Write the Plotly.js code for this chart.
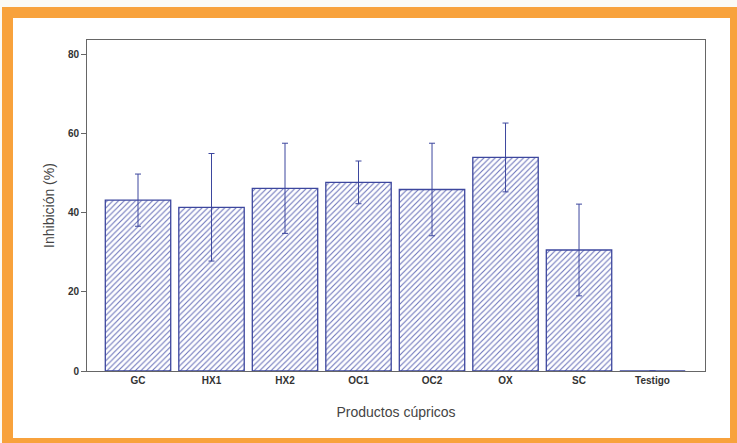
<!DOCTYPE html>
<html>
<head>
<meta charset="utf-8">
<script src="https://cdn.plot.ly/plotly-3.0.1.min.js"></script>
<style>
  html, body { margin: 0; padding: 0; background: #fbfaf6; }
  #wrap { position: relative; width: 737px; height: 443px; overflow: hidden; }
  #orange { position: absolute; left: 2px; top: 7px; width: 735px; height: 436px; background: #f8a23c; }
  #inner { position: absolute; left: 13px; top: 18px; width: 717px; height: 420px; background: #ffffff; }
  #plot { position: absolute; left: 0; top: 0; width: 737px; height: 443px; }
</style>
</head>
<body>
<div id="wrap">
  <div id="orange"></div>
  <div id="inner"></div>
  <div id="plot"></div>
</div>
<script>
const categories = ["GC", "HX1", "HX2", "OC1", "OC2", "OX", "SC", "Testigo"];
const inhibition = [43.2, 41.4, 46.2, 47.7, 45.9, 54.0, 30.6, 0];
const errors = [6.6, 13.6, 11.4, 5.4, 11.7, 8.7, 11.6, 0];
const yTicks = [0, 20, 40, 60, 80];

const trace = {
  type: "bar",
  x: categories,
  y: inhibition,
  width: 0.89,
  marker: {
    color: "#ffffff",
    line: { color: "#3d479e", width: 1.3 },
    pattern: { shape: "/", fgcolor: "#6d75bb", bgcolor: "#ffffff", size: 4, solidity: 0.28 }
  },
  error_y: { type: "data", array: errors, visible: true, color: "#3d479e", thickness: 1, width: 3 },
  hoverinfo: "skip"
};

const layout = {
  width: 737,
  height: 443,
  margin: { l: 87, r: 32, t: 39.5, b: 72.3, pad: 0 },
  paper_bgcolor: "rgba(0,0,0,0)",
  plot_bgcolor: "rgba(0,0,0,0)",
  showlegend: false,
  font: { family: "Liberation Sans, Arial, sans-serif", color: "#333" },
  xaxis: {
    type: "category",
    range: [-0.694, 7.714],
    showgrid: false,
    zeroline: false,
    showline: true,
    linecolor: "#666",
    linewidth: 1,
    mirror: true,
    ticks: "",
    tickfont: { size: 10, color: "#333", family: "Liberation Sans, Arial, sans-serif", weight: "bold" },
    title: { text: "Productos cúpricos", font: { size: 14, color: "#444" }, standoff: 22 }
  },
  yaxis: {
    range: [0, 83.7],
    tickvals: yTicks,
    ticktext: yTicks.map(String),
    showgrid: false,
    zeroline: false,
    showline: true,
    linecolor: "#666",
    linewidth: 1,
    mirror: true,
    ticks: "outside",
    ticklen: 5,
    tickcolor: "#666",
    tickfont: { size: 10, color: "#333", family: "Liberation Sans, Arial, sans-serif", weight: "bold" },
    title: { text: "Inhibición (%)", font: { size: 14, color: "#444" }, standoff: 9 }
  }
};

Plotly.newPlot("plot", [trace], layout, { displayModeBar: false, staticPlot: true });
</script>
</body>
</html>
